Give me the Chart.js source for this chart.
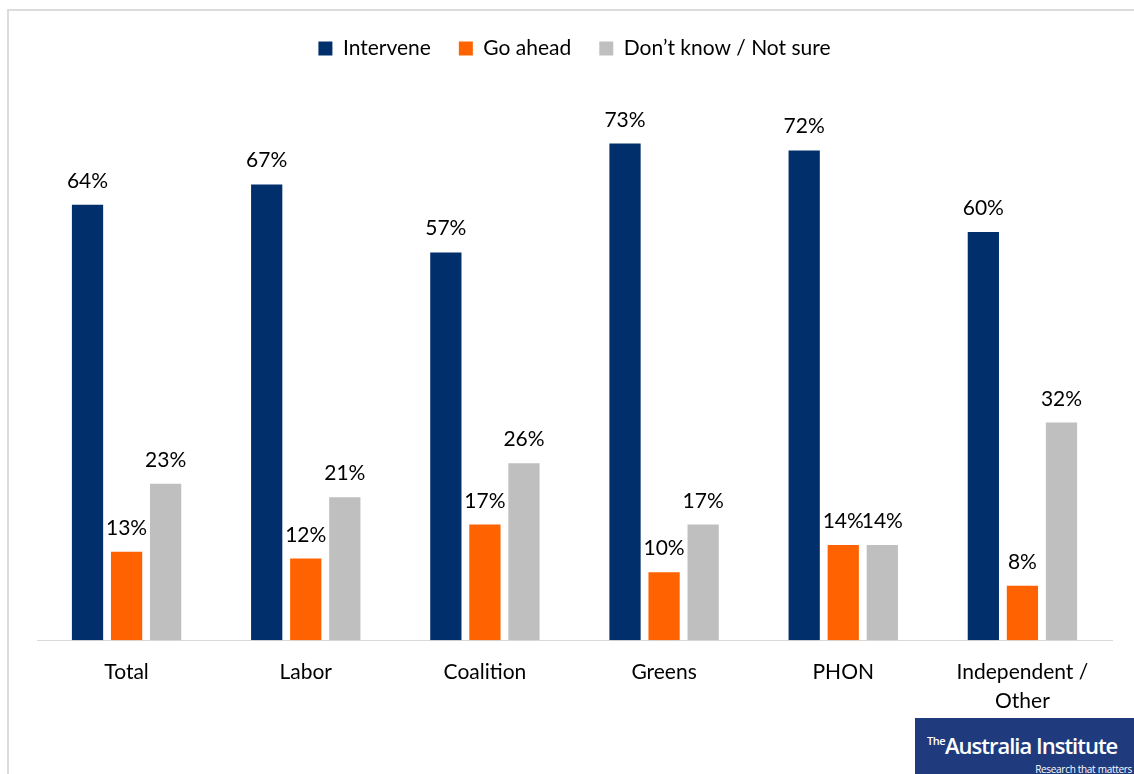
<!DOCTYPE html>
<html>
<head>
<meta charset="utf-8">
<script src="https://cdn.jsdelivr.net/npm/chart.js@4.4.1/dist/chart.umd.min.js"></script>
<style>
  html, body { margin: 0; padding: 0; background: #fff; }
  #wrap { position: relative; width: 1134px; height: 774px; overflow: hidden; }
  #frame {
    position: absolute; left: 7px; top: 9px; right: -4px; bottom: -4px;
    border-left: 2px solid #dcdcdc; border-top: 2px solid #dcdcdc;
  }
  #chart { position: absolute; left: 0; top: 0; }
  #logo {
    position: absolute; left: 915px; top: 718px; width: 219px; height: 60px;
    background: #1f3b7e; color: #fff; font-family: "Open Sans", sans-serif;
  }
  #logo .name {
    position: absolute; left: 12px; top: 12px; font-size: 22px; font-weight: 600;
    letter-spacing: -1px; white-space: nowrap;
  }
  #logo .name sup { font-size: 11px; letter-spacing: -0.5px; vertical-align: 9px; }
  #logo .tag {
    position: absolute; right: 2px; top: 44px; font-size: 10px; letter-spacing: -0.3px;
    white-space: nowrap;
  }
</style>
</head>
<body>
<div id="wrap">
  <div id="frame"></div>
  <canvas id="chart" width="1134" height="774"></canvas>
  <div id="logo"><div class="name"><sup>The</sup>Australia Institute</div><div class="tag">Research that matters</div></div>
</div>
<script>
// survey result by party vote
const categories = ['Total', 'Labor', 'Coalition', 'Greens', 'PHON', ['Independent /', 'Other']];
const intervene = [64, 67, 57, 73, 72, 60];
const goAhead = [13, 12, 17, 10, 14, 8];
const dontKnow = [23, 21, 26, 17, 14, 32];
const seriesNames = ['Intervene', 'Go ahead', 'Don\u2019t know / Not sure'];
const seriesColors = ['#002f6c', '#ff6200', '#bfbfbf'];

const FONT = 'Lato, "Open Sans", sans-serif';

// value labels above each bar
const barLabels = {
  id: 'barLabels',
  afterDatasetsDraw(chart) {
    const ctx = chart.ctx;
    ctx.save();
    ctx.font = '21px ' + FONT;
    ctx.fillStyle = '#000';
    ctx.textAlign = 'center';
    ctx.textBaseline = 'alphabetic';
    chart.data.datasets.forEach((ds, i) => {
      chart.getDatasetMeta(i).data.forEach((bar, j) => {
        ctx.fillText(ds.data[j] + '%', bar.x, bar.y - 17);
      });
    });
    ctx.restore();
  }
};

// extra room under the legend
const legendGap = {
  id: 'legendGap',
  beforeInit(chart) {
    const fit = chart.legend.fit;
    chart.legend.fit = function () {
      fit.call(this);
      this.height += 27;
    };
  }
};

const data = [intervene, goAhead, dontKnow];

new Chart(document.getElementById('chart'), {
  type: 'bar',
  data: {
    labels: categories,
    datasets: data.map((vals, i) => ({
      label: seriesNames[i],
      data: vals,
      backgroundColor: seriesColors[i],
      borderWidth: 0,
      categoryPercentage: 0.654,
      barPercentage: 0.8
    }))
  },
  options: {
    responsive: false,
    animation: false,
    layout: { padding: { left: 37, right: 22, top: 10, bottom: 49 } },
    plugins: {
      legend: {
        position: 'top',
        labels: {
          color: '#000',
          font: { family: FONT, size: 21 },
          boxWidth: 14,
          boxHeight: 14,
          padding: 28
        }
      },
      tooltip: { enabled: false }
    },
    scales: {
      x: {
        grid: { display: false },
        border: { color: '#d9d9d9', width: 1 },
        ticks: {
          color: '#000',
          font: { family: FONT, size: 21, lineHeight: 1.4 },
          padding: 9,
          maxRotation: 0
        }
      },
      y: {
        display: false,
        min: 0,
        max: 80
      }
    }
  },
  plugins: [barLabels, legendGap]
});
</script>
</body>
</html>
